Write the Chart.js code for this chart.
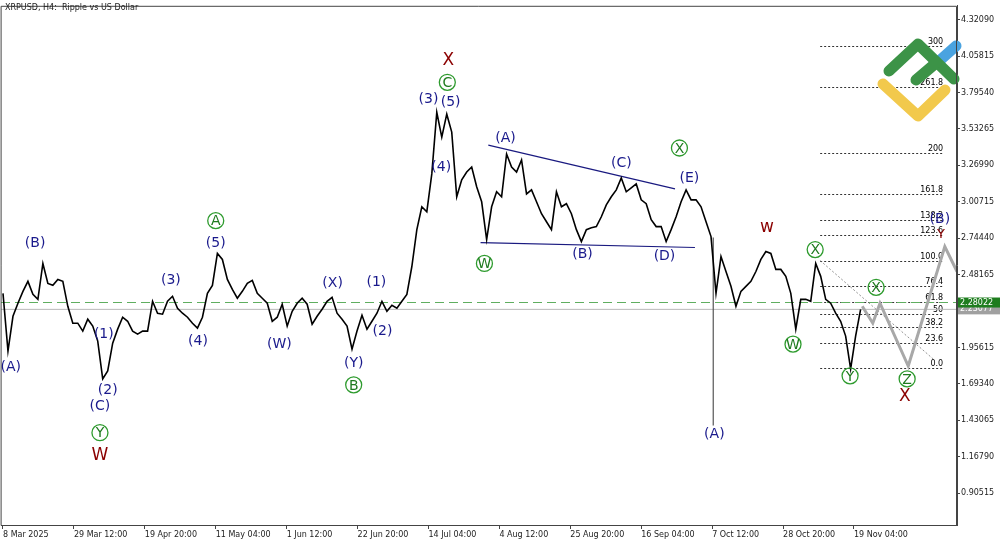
<!DOCTYPE html>
<html><head><meta charset="utf-8">
<script src="https://cdn.jsdelivr.net/npm/chart.js@4.4.1/dist/chart.umd.min.js"></script>
<style>body{margin:0;background:#fff}canvas{display:block}</style>
</head><body><canvas id="c" width="1000" height="545"></canvas>
<script>
// H4 bars, one sample every 9 bars starting 8 Mar 2025 00:00
const sampleStep = 9;
const closes = [2.346,1.930,2.181,2.275,2.361,2.433,2.339,2.303,2.562,2.418,2.404,2.447,2.433,2.253,2.131,2.131,2.074,2.160,2.110,2.002,
1.729,1.787,1.987,2.088,2.174,2.145,2.074,2.052,2.074,2.074,2.289,2.203,2.196,2.289,2.325,2.239,2.203,2.174,2.131,2.095,
2.174,2.346,2.404,2.634,2.591,2.447,2.375,2.311,2.361,2.418,2.440,2.346,2.311,2.275,2.145,2.174,2.268,2.110,2.217,2.275,
2.311,2.268,2.124,2.181,2.232,2.289,2.318,2.203,2.160,2.110,1.944,2.074,2.188,2.088,2.145,2.203,2.289,2.217,2.260,2.239,
2.289,2.339,2.540,2.806,2.971,2.935,3.208,3.653,3.474,3.639,3.510,3.043,3.165,3.222,3.258,3.115,3.007,2.734,2.971,3.079,
3.043,3.352,3.258,3.222,3.309,3.064,3.093,3.007,2.921,2.863,2.806,3.079,2.971,2.993,2.921,2.806,2.720,2.806,2.820,2.828,
2.899,2.985,3.043,3.093,3.179,3.079,3.107,3.136,3.021,2.993,2.878,2.828,2.828,2.720,2.806,2.899,3.007,3.093,3.021,3.021,
2.971,2.863,2.756,2.346,2.612,2.504,2.397,2.253,2.361,2.397,2.433,2.504,2.591,2.648,2.634,2.519,2.519,2.469,2.346,2.088,
2.303,2.303,2.289,2.562,2.469,2.303,2.275,2.203,2.145,2.038,1.801,2.038,2.231];
const spikeBar = 1282, spikeHigh = 2.75, spikeLow = 1.392;
const forecastBars = [1551,1570,1583,1634,1700,1722];
const forecastPrices = [2.253,2.131,2.275,1.822,2.684,2.504];
const triUpperBars = [876,1213], triUpperPrices = [3.416,3.100];
const triLowerBars = [862,1249], triLowerPrices = [2.713,2.677];
const diagBars = [1475,1679], diagPrices = [2.583,1.873];
const fibNames = ['0.0','23.6','38.2','50','61.8','76.4','100.0','123.6','138.2','161.8','200','261.8','300'];
const fibPrices = [1.808,1.991,2.104,2.196,2.287,2.400,2.583,2.766,2.879,3.062,3.358,3.837,4.133];
const fibStart = 1475, fibEnd = 1697;
const priceTicks = [0.90515,1.16790,1.43065,1.69340,1.95615,2.21890,2.48165,2.74440,3.00715,3.26990,3.53265,3.79540,4.05815,4.32090];
const timeTickBars = [0,128,256,384,512,640,768,896,1024,1152,1280,1408,1536];
const timeTickLabels = ['8 Mar 2025','29 Mar 12:00','19 Apr 20:00','11 May 04:00','1 Jun 12:00','22 Jun 20:00','14 Jul 04:00','4 Aug 12:00','25 Aug 20:00','16 Sep 04:00','7 Oct 12:00','28 Oct 20:00','19 Nov 04:00'];
const askPrice = 2.28022, bidPrice = 2.23077;
// wave labels: [text, bar, price, style]  style: b=blue, g=green circle, r=dark red
const waveLabels = [
['(A)',14,1.815,'b'],['(B)',58,2.705,'b'],['(1)',182,2.052,'b'],['(2)',189,1.643,'b'],['(C)',175,1.528,'b'],
['Y',175,1.341,'g'],['W',175,1.176,'r'],['(3)',303,2.440,'b'],['(4)',352,2.002,'b'],['(5)',384,2.705,'b'],['A',384,2.871,'g'],
['(W)',499,1.980,'b'],['(X)',595,2.418,'b'],['(Y)',633,1.844,'b'],['B',633,1.686,'g'],['(1)',674,2.425,'b'],['(2)',685,2.074,'b'],
['(3)',768,3.747,'b'],['(5)',808,3.725,'b'],['(4)',791,3.258,'b'],['C',802,3.869,'g'],['X',804,4.027,'r'],
['(A)',907,3.467,'b'],['W',869,2.562,'g'],['(B)',1046,2.626,'b'],['(C)',1116,3.287,'b'],['X',1221,3.395,'g'],['(E)',1239,3.179,'b'],['(D)',1194,2.612,'b'],
['(A)',1284,1.327,'b'],['w',1379,2.820,'r'],['X',1466,2.662,'g'],['W',1426,1.980,'g'],['X',1576,2.390,'g'],['Y',1529,1.751,'g'],['Z',1632,1.729,'g'],['X',1628,1.600,'r'],
['(B)',1691,2.878,'b'],['Y',1693,2.770,'r']
];

const xy = (xs, ys) => xs.map((x,i)=>({x, y:ys[i]}));
const priceData = closes.map((v,i)=>({x:i*sampleStep, y:v}));
const F = '"DejaVu Sans", sans-serif';

const overlay = {
  id:'overlay',
  beforeDatasetsDraw(ch){
    const {ctx, chartArea:a, scales:{x,y}} = ch;
    ctx.save();
    ctx.font = '8px '+F; ctx.fillStyle='#000'; ctx.textAlign='right'; ctx.textBaseline='bottom';
    fibPrices.forEach((p,i)=>{
      const yy = Math.round(y.getPixelForValue(p))+0.5;
      ctx.strokeStyle='#333'; ctx.setLineDash([2,2]); ctx.lineWidth=1;
      ctx.beginPath(); ctx.moveTo(x.getPixelForValue(fibStart),yy); ctx.lineTo(x.getPixelForValue(fibEnd),yy); ctx.stroke();
      ctx.setLineDash([]);
      ctx.fillText(fibNames[i], x.getPixelForValue(fibEnd), yy-1);
    });
    let ya = y.getPixelForValue(askPrice);
    ctx.strokeStyle='#5fae5f'; ctx.setLineDash([9,5]); ctx.lineWidth=1;
    ctx.beginPath(); ctx.moveTo(a.left,ya); ctx.lineTo(a.right,ya); ctx.stroke();
    ctx.setLineDash([]);
    let yb = y.getPixelForValue(bidPrice);
    ctx.strokeStyle='#b8b8b8';
    ctx.beginPath(); ctx.moveTo(a.left,yb); ctx.lineTo(a.right,yb); ctx.stroke();
    ctx.restore();
  },
  afterDatasetsDraw(ch){
    const {ctx, chartArea:a, scales:{x,y}} = ch;
    ctx.save();
    ctx.lineCap='round'; ctx.lineJoin='round'; ctx.lineWidth=11;
    ctx.strokeStyle='#f2c94c';
    ctx.beginPath(); ctx.moveTo(883,84); ctx.lineTo(918,116); ctx.lineTo(945,90); ctx.stroke();
    ctx.strokeStyle='#4aa3e0';
    ctx.beginPath(); ctx.moveTo(938,62); ctx.lineTo(956,46); ctx.stroke();
    ctx.strokeStyle='#3c9347';
    ctx.beginPath(); ctx.moveTo(889,71); ctx.lineTo(918,44); ctx.lineTo(954,79); ctx.stroke();
    ctx.beginPath(); ctx.moveTo(916,80); ctx.lineTo(936,63); ctx.stroke();
    ctx.textAlign='center'; ctx.textBaseline='middle';
    waveLabels.forEach(([t,b,p,s])=>{
      const px=x.getPixelForValue(b), py=y.getPixelForValue(p);
      if(s==='b'){ctx.fillStyle='#1a1a8c'; ctx.font='14px '+F; ctx.fillText(t,px,py);}
      else if(s==='r'){ctx.fillStyle='#8b0000'; ctx.font=(t==='Y'?'13px ':'17px ')+F; ctx.fillText(t,px,py);}
      else {ctx.strokeStyle='#2e9b2e'; ctx.lineWidth=1.3; ctx.beginPath(); ctx.arc(px,py,8,0,Math.PI*2); ctx.stroke();
        ctx.fillStyle='#1f7a1f'; ctx.font='14px '+F; ctx.fillText(t,px,py+1);}
    });
    ctx.strokeStyle='#444'; ctx.lineWidth=1;
    ctx.strokeRect(a.left+0.5,a.top+0.5,a.width-1,a.height);
    ctx.fillStyle='#222'; ctx.font='8px '+F; ctx.textAlign='left'; ctx.textBaseline='middle';
    ctx.fillText('XRPUSD, H4:  Ripple vs US Dollar',5,8);
    const tag=(p,bg)=>{const yy=y.getPixelForValue(p); ctx.fillStyle=bg; ctx.fillRect(a.right+1,yy-5,42,10);
      ctx.fillStyle='#fff'; ctx.fillText(p.toFixed(5),a.right+3,yy);};
    tag(bidPrice,'#a0a0a0'); tag(askPrice,'#1e7d1e');
    ctx.restore();
  }
};

new Chart(document.getElementById('c'), {
  type:'line',
  data:{datasets:[
    {data:priceData, borderColor:'#000', borderWidth:1.6, pointRadius:0, tension:0},
    {data:[{x:spikeBar,y:spikeHigh},{x:spikeBar,y:spikeLow}], borderColor:'#555', borderWidth:1.2, pointRadius:0},
    {data:xy(forecastBars,forecastPrices), borderColor:'#a8a8a8', borderWidth:3, pointRadius:0},
    {data:xy(triUpperBars,triUpperPrices), borderColor:'#1a1a80', borderWidth:1.2, pointRadius:0},
    {data:xy(triLowerBars,triLowerPrices), borderColor:'#1a1a80', borderWidth:1.2, pointRadius:0},
    {data:xy(diagBars,diagPrices), borderColor:'#777', borderWidth:0.8, borderDash:[2,2], pointRadius:0}
  ]},
  options:{
    responsive:false, animation:false, events:[],
    layout:{padding:{left:1,top:3,right:0,bottom:0}},
    plugins:{legend:{display:false}, tooltip:{enabled:false}},
    scales:{
      x:{type:'linear', min:-3.6, max:1722,
        afterBuildTicks(s){s.ticks=timeTickBars.map(v=>({value:v}));},
        afterFit(s){s.height=20;},
        ticks:{autoSkip:false, maxRotation:0, align:'start', padding:1, color:'#222', font:{size:8,family:F},
          callback:(v)=>timeTickLabels[timeTickBars.indexOf(v)]},
        grid:{drawOnChartArea:false, tickLength:4, color:'#444'}, border:{color:'#444'}},
      y:{type:'linear', position:'right', min:0.675, max:4.421,
        afterBuildTicks(s){s.ticks=priceTicks.map(v=>({value:v}));},
        afterFit(s){s.width=43;},
        ticks:{autoSkip:false, padding:1, color:'#222', font:{size:8,family:F}, callback:v=>v.toFixed(5)},
        grid:{drawOnChartArea:false, tickLength:3, color:'#444'}, border:{color:'#444'}}
    }
  },
  plugins:[overlay]
});
</script></body></html>
